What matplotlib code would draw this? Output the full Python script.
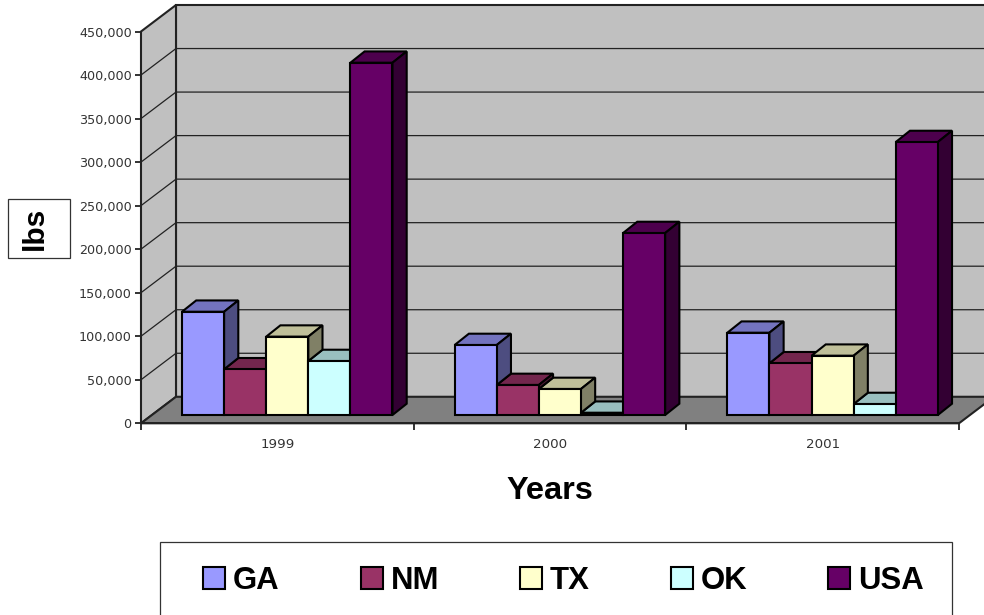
import matplotlib
matplotlib.use("Agg")
import matplotlib.pyplot as plt
from matplotlib.patches import Polygon, Rectangle
from matplotlib.ticker import FuncFormatter
from matplotlib.colors import to_rgb

# ---- data ----
years = ["1999", "2000", "2001"]
series = ["GA", "NM", "TX", "OK", "USA"]
GA = [118600, 80400, 94500]
NM = [52500, 34500, 59400]
TX = [90000, 29900, 68100]
OK = [62000, 2600, 12600]
USA = [404600, 209000, 313500]
values = [GA, NM, TX, OK, USA]
colors = ["#9999FF", "#993366", "#FFFFCC", "#CCFFFF", "#660066"]
y_ticks = list(range(0, 450001, 50000))

# ---- layout ----
W, H = 984, 615
L, R, B, T = 141, 959, 423.3, 31.5          # front plane in pixels
px_x = 3 / (R - L)                          # categories per pixel
px_y = 450000 / (B - T)                     # lbs per pixel
WALL_DX, WALL_DY = 35 * px_x, 26.5 * px_y   # depth of chart box
BAR_DX, BAR_DY = 14.2 * px_x, 11.3 * px_y   # depth of a bar
BAR_W = 42.1 * px_x
GROUP_OFF = 41 * px_x
BASE = 8.3 * px_y                           # bars sit inside the floor
EDGE = 1.5

fig = plt.figure(figsize=(W / 100, H / 100), dpi=100, facecolor="white")
ax = fig.add_axes([L / W, 1 - B / H, (R - L) / W, (B - T) / H])
ax.set_xlim(0, 3)
ax.set_ylim(0, 450000)
ax.patch.set_visible(False)
for s in ("top", "right"):
    ax.spines[s].set_visible(False)
for s in ("left", "bottom"):
    ax.spines[s].set_linewidth(1.3)
    ax.spines[s].set_color("#222222")


def shade(c, k):
    return tuple(v * k for v in to_rgb(c))


def poly(pts, fc, z, lw=EDGE, ec="black"):
    ax.add_patch(Polygon(pts, closed=True, facecolor=fc, edgecolor=ec,
                         linewidth=lw, zorder=z, clip_on=False, joinstyle="miter"))


# walls and floor
far = 3 + WALL_DX
ymax = y_ticks[-1]
poly([(WALL_DX, WALL_DY), (far, WALL_DY), (far, ymax + WALL_DY), (WALL_DX, ymax + WALL_DY)],
     "#C0C0C0", 0.5, 1.5, "#222222")
poly([(0, 0), (WALL_DX, WALL_DY), (WALL_DX, ymax + WALL_DY), (0, ymax)],
     "#C0C0C0", 0.6, 1.5, "#222222")
poly([(0, 0), (3, 0), (far, WALL_DY), (WALL_DX, WALL_DY)], "#808080", 0.7, 1.5, "#222222")

# gridlines on the walls
for v in y_ticks[1:-1]:
    ax.plot([0, WALL_DX, far], [v, v + WALL_DY, v + WALL_DY], color="#222222",
            lw=0.9, zorder=0.8, clip_on=False, solid_joinstyle="miter")

# bars: a side face only shows above the right-hand neighbour; front faces come last
handles = []
for j, (name, vals, c) in enumerate(zip(series, values, colors)):
    xs = [g + GROUP_OFF + j * BAR_W for g in range(len(years))]
    bars = ax.bar(xs, vals, BAR_W, bottom=BASE, align="edge", color=c, edgecolor="black",
                  linewidth=EDGE, label=name, clip_on=False)
    handles.append(bars)
    for g, (x, v, rect) in enumerate(zip(xs, vals, bars)):
        rank = sorted(values[k][g] for k in range(len(series))).index(v)
        z = 3 + rank
        top = v + BASE
        neighbour = values[j + 1][g] + BASE if j + 1 < len(series) else BASE
        low = min(neighbour, top)
        poly([(x, top), (x + BAR_W, top), (x + BAR_W + BAR_DX, top + BAR_DY), (x + BAR_DX, top + BAR_DY)],
             shade(c, 0.75), z)
        poly([(x + BAR_W, low), (x + BAR_W + BAR_DX, low + BAR_DY),
              (x + BAR_W + BAR_DX, top + BAR_DY), (x + BAR_W, top)],
             shade(c, 0.5), z)
        rect.set_zorder(10)

# axes
ax.set_yticks(y_ticks)
ax.yaxis.set_major_formatter(FuncFormatter(lambda v, _: f"{int(v):,}"))
ax.set_xticks(range(len(years) + 1))
ax.set_xticklabels([])
ax.set_xticks([g + 0.5 for g in range(len(years))], minor=True)
ax.set_xticklabels(years, minor=True)
ax.tick_params(axis="y", length=4.5, width=1.3, color="#222222", labelsize=9.2,
               labelcolor="#333333", pad=2.2)
ax.tick_params(axis="x", which="major", length=5, width=1.3, color="#222222")
ax.tick_params(axis="x", which="minor", length=0, labelsize=9.6, labelcolor="#333333", pad=10.5)

ax.set_xlabel("Years", va="center", ha="center", family="Liberation Sans",
              fontweight="bold", fontsize=23.4, color="black")
ax.xaxis.set_label_coords((550 - L) / (R - L), -(491 - B) / (B - T))
ax.set_ylabel("lbs", va="center", ha="center", family="Liberation Sans",
              fontweight="bold", fontsize=21.5, color="black")
ax.yaxis.set_label_coords((35 - L) / (R - L), (B - 228) / (B - T))

# box behind the axis title
fig.add_artist(Rectangle((7.5 / W, 1 - 258 / H), 62.5 / W, 59 / H, transform=fig.transFigure,
                         facecolor="white", edgecolor="#333333", linewidth=0.9, zorder=-1))
# legend frame (runs off the bottom of the picture)
fig.add_artist(Rectangle((159.5 / W, -10 / H), 792.8 / W, (615 - 542 + 10) / H, transform=fig.transFigure,
                         facecolor="white", edgecolor="#333333", linewidth=0.9, zorder=-1))

leg = ax.legend(handles=handles, labels=series, ncol=5, frameon=False,
                loc="center left", bbox_to_anchor=(203 / W, 1 - 581 / H),
                bbox_transform=fig.transFigure, borderaxespad=0, borderpad=0,
                prop=dict(family="Liberation Sans", weight="bold", size=22.4),
                handlelength=0.707, handleheight=0.74, handletextpad=0.257,
                columnspacing=2.6)

fig.savefig("out.png", dpi=100, facecolor="white")
